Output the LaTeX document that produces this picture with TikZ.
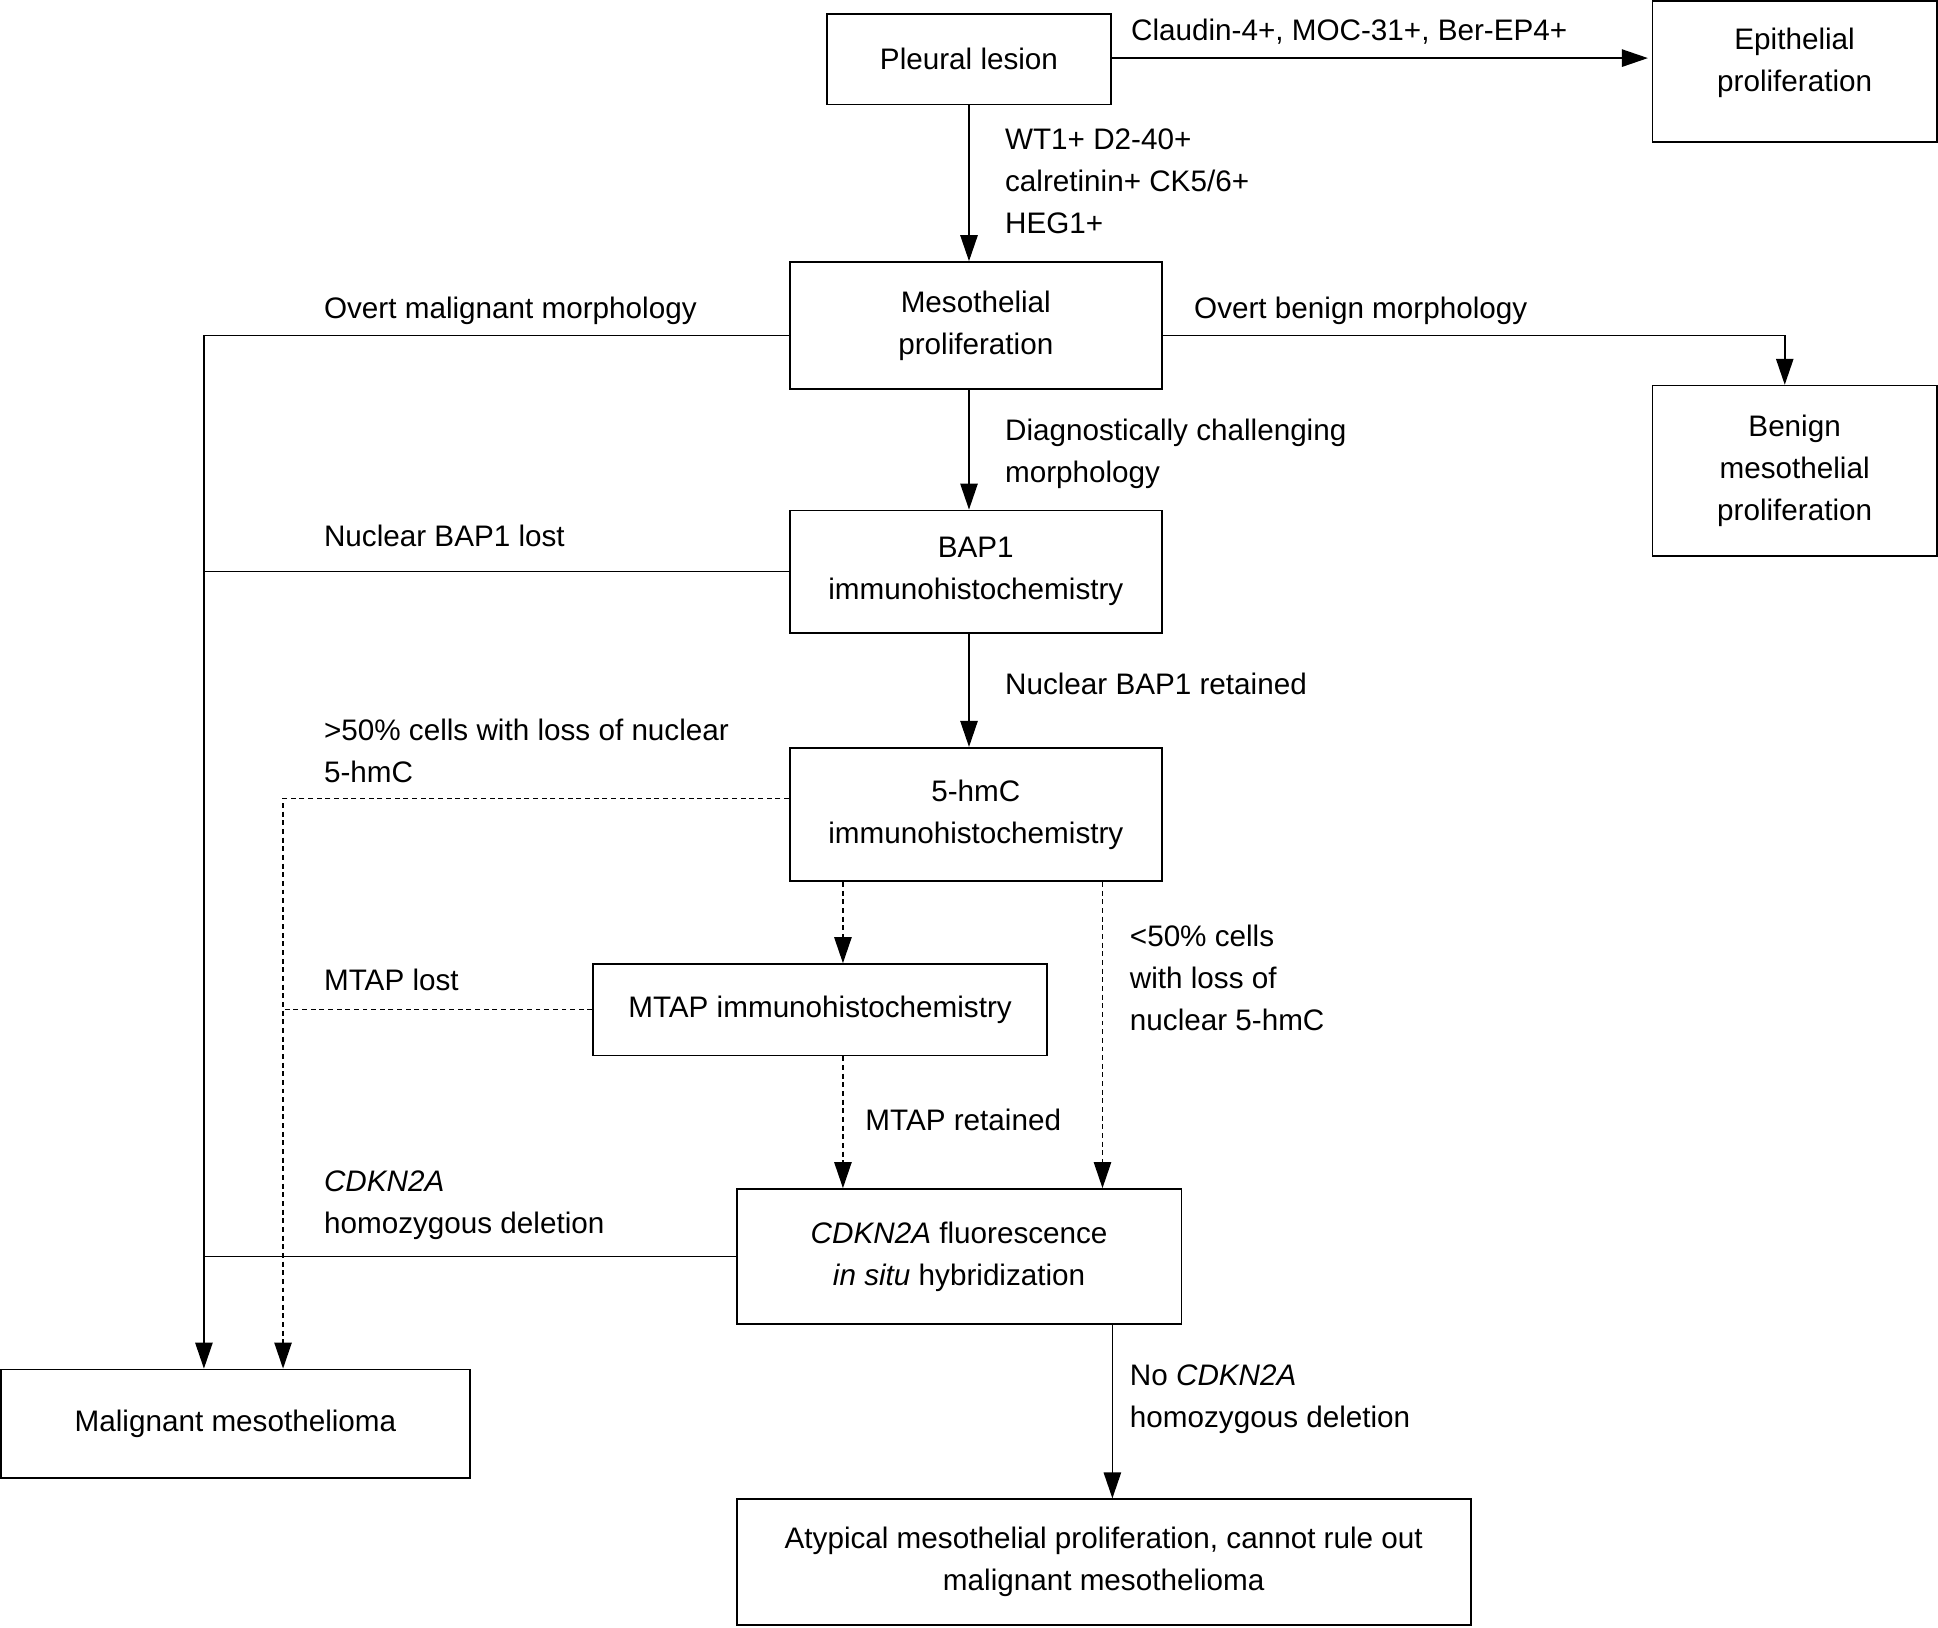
\documentclass[tikz,border=0pt]{standalone}
\usepackage{fontspec}
\setmainfont{Liberation Sans}
\usetikzlibrary{arrows.meta,calc}
\newcommand\mylines[1]{\begin{tabular}[t]{@{}l@{}}#1\end{tabular}}
\begin{document}
\begin{tikzpicture}[x=1pt,y=-1pt,
  font=\fontsize{24}{34}\selectfont,
  box/.style={draw,line width=1.4pt,align=center,inner sep=0pt},
  lbl/.style={anchor=base west,inner sep=0pt},
  arr/.style={line width=1.3pt,-{Triangle[length=21pt,width=14pt]}},
  conn/.style={line width=1.3pt},
  darr/.style={line width=1.1pt,dash pattern=on 4pt off 3pt,-{Triangle[length=21pt,width=14pt]}},
  dconn/.style={line width=1.1pt,dash pattern=on 4pt off 3pt}]
\useasboundingbox (0,0) rectangle (1568,1317);
% columns
\coordinate (xa) at (165,0);
\coordinate (xb) at (229,0);
\coordinate (xc) at (682,0);
\coordinate (xd) at (892,0);
\coordinate (xe) at (900,0);
\coordinate (xf) at (1444,0);
\coordinate (xg) at (784,0);
% boxes
\node[box,minimum width=230pt,minimum height=73pt] (pl) at (784,48) {Pleural lesion};
\node[box,minimum width=230pt,minimum height=114pt] (ep) at (1452,58) {\raisebox{8pt}[\height][\depth]{\begin{tabular}{@{}c@{}}Epithelial\\proliferation\end{tabular}}};
\node[box,minimum width=301pt,minimum height=103pt] (me) at (789.5,263.5) {Mesothelial\\proliferation};
\node[box,minimum width=230pt,minimum height=138pt] (be) at (1452,381) {Benign\\mesothelial\\proliferation};
\node[box,minimum width=301pt,minimum height=99pt] (bap) at (789.5,462.5) {BAP1\\immunohistochemistry};
\node[box,minimum width=301pt,minimum height=108pt] (hm) at (789.5,659) {5-hmC\\immunohistochemistry};
\node[box,minimum width=367pt,minimum height=74pt] (mt) at (663.5,817) {MTAP immunohistochemistry};
\node[box,minimum width=360pt,minimum height=109pt] (cd) at (776,1016.5) {\textit{CDKN2A} fluorescence\\\textit{in situ} hybridization};
\node[box,minimum width=379pt,minimum height=88pt] (mm) at (190.5,1152) {Malignant mesothelioma};
\node[box,minimum width=594pt,minimum height=102pt] (at) at (893,1264) {Atypical mesothelial proliferation, cannot rule out\\malignant mesothelioma};
% connectors
\draw[arr,shorten >=3pt] (pl.east |- 0,47) -- (ep.west |- 0,47);
\draw[arr] (pl.south -| xg) -- (me.north -| xg);
\draw[arr] ([yshift=-8pt]me.west) -| (mm.north -| xa);
\draw[arr] ([yshift=-8pt]me.east) -| (be.north -| xf);
\draw[arr] (me.south -| xg) -- (bap.north -| xg);
\draw[conn] (bap.west) -- (bap.west -| xa);
\draw[arr] (bap.south -| xg) -- (hm.north -| xg);
\draw[darr] ([yshift=13pt]hm.west) -| (mm.north -| xb);
\draw[darr] (hm.south -| xc) -- (mt.north -| xc);
\draw[dconn] (mt.west) -- (mt.west -| xb);
\draw[darr] (mt.south -| xc) -- (cd.north -| xc);
\draw[darr] (hm.south -| xd) -- (cd.north -| xd);
\draw[conn] (cd.west) -- (cd.west -| xa);
\draw[arr] (cd.south -| xe) -- (at.north -| xe);
% labels
\node[lbl] (l1) at (915,33) {Claudin-4+, MOC-31+, Ber-EP4+};
\node[lbl] (l2) at (813,121) {\mylines{WT1+ D2-40+\\calretinin+ CK5/6+\\HEG1+}};
\node[lbl] (l3) at (262,258) {Overt malignant morphology};
\node[lbl] (l4) at (966,258) {Overt benign morphology};
\node[lbl] (l5) at (813,356) {\mylines{Diagnostically challenging\\morphology}};
\node[lbl] (l6) at (262,442) {Nuclear BAP1 lost};
\node[lbl] (l7) at (813,562) {Nuclear BAP1 retained};
\node[lbl] (l8) at (262,599) {\mylines{>50\% cells with loss of nuclear\\5-hmC}};
\node[lbl] (l9) at (262,801) {MTAP lost};
\node[lbl] (l10) at (914,766) {\mylines{<50\% cells\\with loss of\\nuclear 5-hmC}};
\node[lbl] (l11) at (700,915) {MTAP retained};
\node[lbl] (l12) at (262,964) {\mylines{\textit{CDKN2A}\\homozygous deletion}};
\node[lbl] (l13) at (914,1121) {\mylines{No \textit{CDKN2A}\\homozygous deletion}};
\end{tikzpicture}
\end{document}
